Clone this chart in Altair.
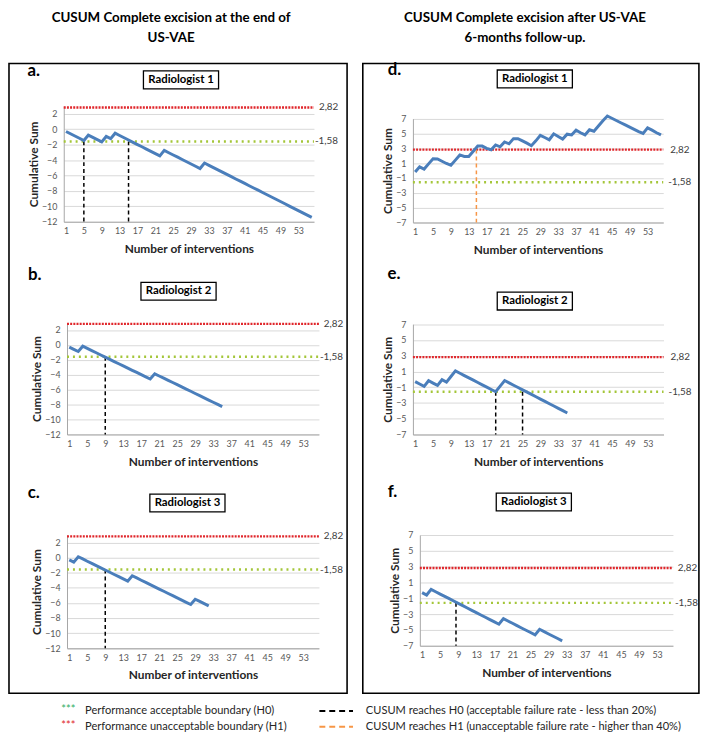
import altair as alt
import pandas as pd

FONT = "Lato"

x_ticks = [1, 5, 9, 13, 17, 21, 25, 29, 33, 37, 41, 45, 49, 53]
y_ticks_left = [-12, -10, -8, -6, -4, -2, 0, 2]
y_ticks_right = [-7, -5, -3, -1, 1, 3, 5, 7]
H1 = 2.82
H0 = -1.58

a_vals = [-0.29, -0.59, -0.88, -1.17, -1.47, -0.76, -1.06, -1.35, -1.64, -0.94,
          -1.23, -0.52, -0.82, -1.11, -1.40, -1.70, -1.99, -2.28, -2.58, -2.87,
          -3.16, -3.46, -2.75, -3.05, -3.34, -3.63, -3.93, -4.22, -4.51, -4.81,
          -5.10, -4.39, -4.69, -4.98, -5.27, -5.57, -5.86, -6.15, -6.45, -6.74,
          -7.03, -7.33, -7.62, -7.91, -8.21, -8.50, -8.79, -9.09, -9.38, -9.67,
          -9.97, -10.26, -10.55, -10.85, -11.14, -11.43]
b_vals = [-0.29, -0.59, -0.88, -0.17, -0.47, -0.76, -1.05, -1.35, -1.64, -1.93,
          -2.23, -2.52, -2.81, -3.11, -3.40, -3.69, -3.99, -4.28, -4.57, -3.87,
          -4.16, -4.45, -4.75, -5.04, -5.33, -5.63, -5.92, -6.21, -6.51, -6.80,
          -7.09, -7.39, -7.68, -7.97, -8.27]
c_vals = [-0.29, -0.59, 0.12, -0.17, -0.47, -0.76, -1.05, -1.35, -1.64, -1.93,
          -2.23, -2.52, -2.81, -3.11, -2.40, -2.69, -2.99, -3.28, -3.57, -3.87,
          -4.16, -4.45, -4.75, -5.04, -5.33, -5.63, -5.92, -6.21, -5.51, -5.80,
          -6.09, -6.39]
d_vals = [-0.20, 0.50, 0.20, 0.90, 1.60, 1.55, 1.25, 0.95, 0.70, 1.40,
          2.10, 1.90, 1.90, 2.60, 3.30, 3.30, 3.00, 2.80, 3.45, 3.20,
          3.85, 3.60, 4.30, 4.30, 4.00, 3.70, 3.35, 4.00, 4.75, 4.45,
          4.15, 4.95, 4.60, 4.25, 4.90, 4.80, 5.45, 5.10, 4.80, 5.50,
          5.30, 6.00, 6.70, 7.35, 7.05, 6.75, 6.45, 6.15, 5.85, 5.55,
          5.25, 5.00, 5.75, 5.45, 5.10, 4.80]
e_vals = [-0.29, -0.59, -0.88, -0.17, -0.47, -0.76, -0.05, -0.35, 0.36, 1.07,
          0.78, 0.48, 0.19, -0.10, -0.40, -0.69, -0.98, -1.28, -1.57, -0.86,
          -0.15, -0.45, -0.74, -1.03, -1.33, -1.62, -1.91, -2.21, -2.50, -2.79,
          -3.09, -3.38, -3.67, -3.97, -4.26]
f_vals = [-0.29, -0.59, 0.12, -0.17, -0.47, -0.76, -1.05, -1.35, -1.64, -1.93,
          -2.23, -2.52, -2.81, -3.11, -3.40, -3.69, -3.99, -4.28, -3.57, -3.87,
          -4.16, -4.45, -4.75, -5.04, -5.33, -5.63, -4.92, -5.21, -5.51, -5.80,
          -6.09, -6.39]

a_cross = [5, 15]
b_cross = [9]
c_cross = [9]
d_cross = [14.7]
e_cross = [19, 25]
f_cross = [8.5]

col_titles = [["CUSUM  Complete excision at the end of", "US-VAE"],
              ["CUSUM  Complete excision after US-VAE", "6-months follow-up."]]
legend_items = ["Performance acceptable boundary (H0)",
                "Performance unacceptable boundary (H1)",
                "CUSUM reaches  H0 (acceptable failure rate - less than 20%)",
                "CUSUM reaches  H1 (unacceptable failure rate - higher than 40%)"]

BLUE = "#4a7ebb"
RED = "#e0262b"
GREEN = "#a4c639"
GRID = "#d9d9d9"
AXIS = "#a6a6a6"
LBL = "#595959"
ORANGE = "#f79646"

one = pd.DataFrame({"k": [0]})


def txt(text, x, y, size, weight="normal", align="center", color="#000000"):
    return alt.Chart(one).mark_text(
        text=text, fontSize=size, fontWeight=weight, align=align,
        baseline="middle", font=FONT, color=color
    ).encode(x=alt.value(x), y=alt.value(y))


def box(x1, y1, x2, y2, sw, fill="white", op=1):
    return alt.Chart(one).mark_rect(
        fill=fill, fillOpacity=op, stroke="black", strokeWidth=sw
    ).encode(x=alt.value(x1), x2=alt.value(x2), y=alt.value(y1), y2=alt.value(y2))


def panel(vals, side, xr, yr, w, h, cross, ccolor, letter, lxy, sub, sxy, extras,
          ldx=None):
    if side == "left":
        dom, yt, lo = [-12, 3], y_ticks_left, -12
        dx1, dx0 = 5, 1
    else:
        dom, yt, lo = [-7, 7], y_ticks_right, -7
        dx1, dx0 = 7, 5
    if ldx is not None:
        dx1, dx0 = ldx
    xs = alt.Scale(domain=[0.5, 56.5], range=xr, nice=False, zero=False)
    ys = alt.Scale(domain=dom, range=yr, nice=False, zero=False)
    xa = alt.Axis(values=x_ticks, title="Number of interventions", grid=False,
                  ticks=False, domainColor=AXIS, domainWidth=1, labelFont=FONT,
                  labelFontSize=9, labelColor=LBL, labelPadding=5, labelFlush=False,
                  labelOverlap=False, titleFont=FONT, titleFontSize=12,
                  titleFontWeight="bold", titleColor="#262626", titlePadding=8)
    ya = alt.Axis(values=yt, title="Cumulative Sum", grid=True, gridColor=GRID,
                  gridWidth=1, ticks=False, domainColor=AXIS, domainWidth=1,
                  labelFont=FONT, labelFontSize=9, labelColor=LBL, labelPadding=7,
                  titleFont=FONT, titleFontSize=12, titleFontWeight="bold",
                  titleColor="#262626", titlePadding=1, offset=-xr[0])

    df = pd.DataFrame({"n": list(range(1, len(vals) + 1)), "cusum": vals})
    line = alt.Chart(df).mark_line(color=BLUE, strokeWidth=3).encode(
        x=alt.X("n:Q", scale=xs, axis=xa), y=alt.Y("cusum:Q", scale=ys, axis=ya))

    bd = pd.DataFrame({"n": [0.5], "n2": [56.5], "cusum": [H1]})
    red = alt.Chart(bd).mark_rule(color=RED, strokeWidth=2.5, strokeDash=[2, 1.2]).encode(
        x=alt.X("n:Q", scale=xs, axis=xa), x2="n2:Q", y=alt.Y("cusum:Q", scale=ys, axis=ya))
    gd = pd.DataFrame({"n": [0.5], "n2": [56.5], "cusum": [H0]})
    green = alt.Chart(gd).mark_rule(color=GREEN, strokeWidth=2.5, strokeDash=[2, 4]).encode(
        x=alt.X("n:Q", scale=xs, axis=xa), x2="n2:Q", y=alt.Y("cusum:Q", scale=ys, axis=ya))

    top = H1 if ccolor == ORANGE else H0
    vd = pd.DataFrame({"n": cross, "cusum": [top] * len(cross), "c2": [lo] * len(cross)})
    vl = alt.Chart(vd).mark_rule(color=ccolor, strokeWidth=1.5, strokeDash=[4, 3]).encode(
        x=alt.X("n:Q", scale=xs, axis=xa), y=alt.Y("cusum:Q", scale=ys, axis=ya), y2="c2:Q")

    l1 = alt.Chart(pd.DataFrame({"n": [56.5], "cusum": [H1], "t": ["2,82"]})).mark_text(
        align="left", baseline="middle", dx=dx1, fontSize=10, font=FONT, color="#404040"
    ).encode(x=alt.X("n:Q", scale=xs, axis=xa), y=alt.Y("cusum:Q", scale=ys, axis=ya), text="t:N")
    l0 = alt.Chart(pd.DataFrame({"n": [56.5], "cusum": [H0], "t": ["-1,58"]})).mark_text(
        align="left", baseline="middle", dx=dx0, fontSize=10, font=FONT, color="#404040"
    ).encode(x=alt.X("n:Q", scale=xs, axis=xa), y=alt.Y("cusum:Q", scale=ys, axis=ya), text="t:N")

    deco = [
        txt(letter, lxy[0], lxy[1], 17, "bold"),
        box(sxy[0] - 38, sxy[1] - 9, sxy[0] + 38, sxy[1] + 9, 1.3),
        txt(sub, sxy[0], sxy[1], 11.5, "bold"),
    ]
    layers = [green, red, vl, line, l1, l0] + deco + extras
    return alt.layer(*layers).properties(width=w, height=h)


# column boxes and titles (top panels)
extras_a = [
    box(-55.4, -43, 286.6, 594, 1.6, "white", 0),
    txt(col_titles[0][0], 108.6, -89.5, 13.5, "bold"),
    txt(col_titles[0][1], 108.6, -69, 13.5, "bold"),
]
extras_d = [
    box(-50.7, -43, 289.3, 594, 1.6, "white", 0),
    txt(col_titles[1][0], 113.3, -89.5, 13.5, "bold"),
    txt(col_titles[1][1], 113.3, -69, 13.5, "bold"),
]
# legend (bottom-left panel)
r1, r2 = 178.0, 194.0
LF = 11.2
extras_c = [
    txt("***", 4.6, r1 - 1, LF, "normal", "center", "#2fae63"),
    txt("***", 4.6, r2 - 1, LF, "normal", "center", RED),
    txt(legend_items[0], 21.6, r1, LF, "normal", "left", "#262626"),
    txt(legend_items[1], 21.6, r2, LF, "normal", "left", "#262626"),
    alt.Chart(one).mark_rule(color="#000000", strokeWidth=2, strokeDash=[6, 4]).encode(
        x=alt.value(258.6), x2=alt.value(292.6), y=alt.value(r1)),
    alt.Chart(one).mark_rule(color=ORANGE, strokeWidth=2, strokeDash=[6, 4]).encode(
        x=alt.value(258.6), x2=alt.value(292.6), y=alt.value(r2)),
    txt(legend_items[2], 305.6, r1, LF, "normal", "left", "#262626"),
    txt(legend_items[3], 305.6, r2, LF, "normal", "left", "#262626"),
]

pa = panel(a_vals, "left", [0, 253.1], [117, 0], 258.1, 117, a_cross, "#000000",
           "a.", (-30.4, -35), "Radiologist 1", (118.6, -26.5), extras_a)
pd_ = panel(d_vals, "right", [0, 253.2], [117.7, 12.7], 264, 117.7, d_cross, ORANGE,
            "d.", (-18.7, -36), "Radiologist 1", (123.3, -27.5), extras_d)
pb = panel(b_vals, "left", [3.3, 258.1], [113.25, 0], 258.1, 113.25, b_cross, "#000000",
           "b.", (-29.4, -47.65), "Radiologist 2", (116.1, -31.65), [])
pe = panel(e_vals, "right", [0, 253.5], [113.35, 1.65], 264, 113.35, e_cross, "#000000",
           "e.", (-19.2, -48.65), "Radiologist 2", (123.3, -21.65), [])
pc = panel(c_vals, "left", [3.3, 258.1], [114.5, 0], 258.1, 114.5, c_cross, "#000000",
           "c.", (-30.4, -41.95), "Radiologist 3", (125.1, -32.45), extras_c)
pf = panel(f_vals, "right", [7, 263], [112, 0], 264, 112, f_cross, "#000000",
           "f.", (-20.7, -43.45), "Radiologist 3", (122.3, -33.45), [], ldx=(5, 2))

chart = alt.concat(pa, pd_, pb, pe, pc, pf, columns=2,
                   spacing={"row": 100.95, "column": 94.2}, bounds="flush").properties(
    autosize=alt.AutoSizeParams(type="none"),
    padding={"left": 56.4, "top": 95, "right": 643.6, "bottom": 633},
    background="white"
).configure_view(strokeWidth=0)

chart.save("out.html", embed_options={"renderer": "svg", "actions": False})
